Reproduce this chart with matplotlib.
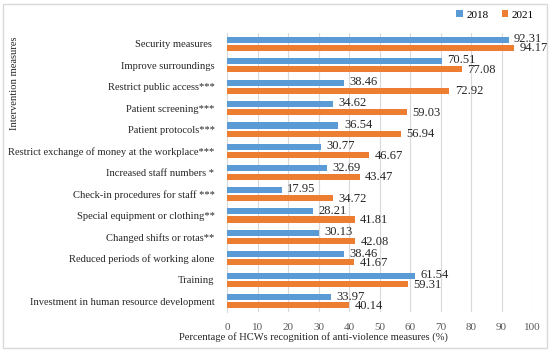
import numpy as np
import matplotlib.pyplot as plt
from matplotlib.patches import Rectangle

categories = [
    "Security measures ",
    "Improve surroundings",
    "Restrict public access***",
    "Patient screening***",
    "Patient protocols***",
    "Restrict exchange of money at the workplace***",
    "Increased staff numbers *",
    "Check-in procedures for staff ***",
    "Special equipment or clothing**",
    "Changed shifts or rotas**",
    "Reduced periods of working alone",
    "Training",
    "Investment in human resource development",
]
vals_2018 = [92.31, 70.51, 38.46, 34.62, 36.54, 30.77, 32.69, 17.95, 28.21, 30.13, 38.46, 61.54, 33.97]
vals_2021 = [94.17, 77.08, 72.92, 59.03, 56.94, 46.67, 43.47, 34.72, 41.81, 42.08, 41.67, 59.31, 40.14]
xticks = list(range(0, 101, 10))

plt.rcParams['font.family'] = ['Liberation Serif', 'DejaVu Serif']
txt = '#262626'

fig = plt.figure(figsize=(5.5, 3.51), dpi=100)
ax = fig.add_axes([227 / 550, 1 - 312 / 351, (532 - 227) / 550, (312 - 33) / 351])

y = np.arange(len(categories))
h = 0.28
off = 0.19
ax.barh(y - off, vals_2018, height=h, color='#5B9BD5', label='2018', zorder=3)
ax.barh(y + off, vals_2021, height=h, color='#ED7D31', label='2021', zorder=3)

for yi, v in zip(y, vals_2018):
    ax.text(v + 1.8, yi - off - 0.03, f"{v:.2f}", va='center', ha='left', fontsize=9, color=txt)
for yi, v in zip(y, vals_2021):
    ax.text(v + 1.8, yi + off + 0.03, f"{v:.2f}", va='center', ha='left', fontsize=9, color=txt)

ax.set_xlim(0, 100)
ax.set_ylim(len(categories) - 0.5, -0.5)
ax.set_xticks(xticks)
ax.set_yticks(y)
ax.set_yticklabels(categories, fontsize=7.6, color=txt)
ax.tick_params(axis='x', labelsize=8, labelcolor='#595959', length=0, pad=8)
ax.tick_params(axis='y', length=0, pad=9)
ax.grid(axis='x', color='#D9D9D9', linewidth=0.8, zorder=0)
for s in ['top', 'right', 'bottom']:
    ax.spines[s].set_visible(False)
ax.spines['left'].set_color('#D9D9D9')

fig.text(15 / 550, 1 - 83 / 351, "Intervention measures", rotation=90,
         ha='center', va='center', fontsize=7.6, color=txt)
fig.text(313 / 550, 1 - 337 / 351,
         "Percentage of HCWs recognition of anti-violence measures (%)",
         ha='center', va='center', fontsize=7.6, color=txt)

ax.legend(loc='center', bbox_to_anchor=(495 / 550, 1 - 15 / 351),
          bbox_transform=fig.transFigure, ncol=2, frameon=False, fontsize=8,
          handlelength=0.6, handleheight=0.6, handletextpad=0.3, columnspacing=1.2)

fig.patches.append(Rectangle((3 / 550, 3 / 351), 544 / 550, 344 / 351,
                             transform=fig.transFigure, fill=False,
                             edgecolor='#D9D9D9', linewidth=1))

fig.savefig("out.png", dpi=100)
